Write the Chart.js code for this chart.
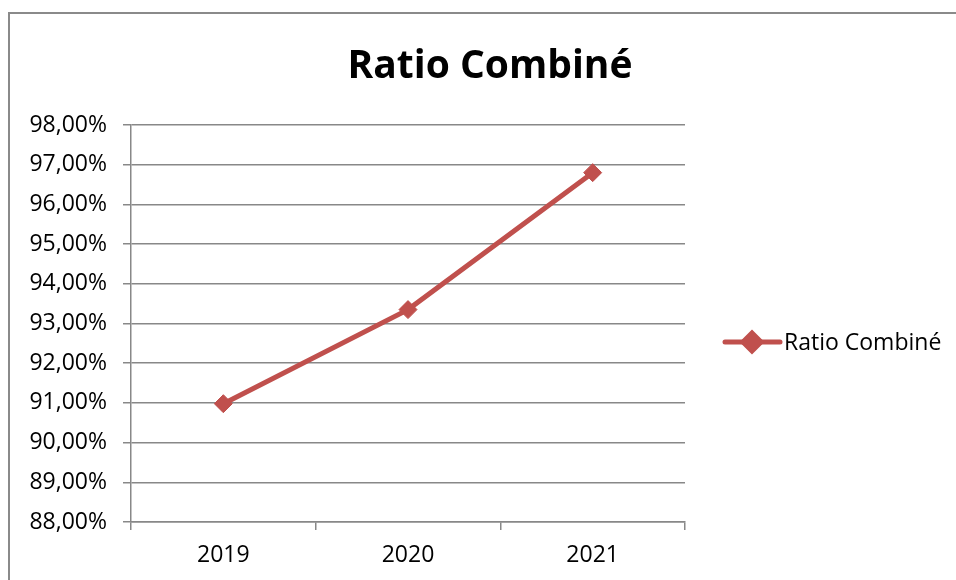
<!DOCTYPE html>
<html>
<head>
<meta charset="utf-8">
<script src="https://cdn.jsdelivr.net/npm/chart.js@4.4.1/dist/chart.umd.min.js"></script>
<style>
  html, body { margin: 0; padding: 0; background: #fff; }
  #wrap { position: relative; width: 956px; height: 580px; overflow: hidden; }
  #frame { position: absolute; left: 8px; top: 12px; width: 1000px; height: 1000px;
           border-left: 2px solid #8a8a8a; border-top: 2px solid #8a8a8a; }
  canvas { position: absolute; left: 0; top: 0; }
</style>
</head>
<body>
<div id="wrap">
  <div id="frame"></div>
  <canvas id="ratioChart" width="956" height="580"></canvas>
</div>
<script>
const years = ["2019", "2020", "2021"];
const ratioCombine = [90.98, 93.35, 96.80];
const yMin = 88;
const yMax = 98;
const chartTitle = "Ratio Combiné";

const RED = "#C0504D";
const GRID = "#888888";
const FONT = "'Open Sans', sans-serif";

function fmtPct(v) {
  return v.toFixed(2).replace(".", ",") + "%";
}

// title centred on the whole frame, not just the plot
const frameTitle = {
  id: "frameTitle",
  afterDraw(chart) {
    const ctx = chart.ctx;
    ctx.save();
    ctx.fillStyle = "#000";
    ctx.font = "bold 39px " + FONT;
    ctx.textAlign = "center";
    ctx.textBaseline = "alphabetic";
    ctx.fillText(chartTitle, 490, 78);
    ctx.restore();
  }
};

// line + diamond legend on the right, like the spreadsheet one
const sideLegend = {
  id: "sideLegend",
  afterDraw(chart) {
    const ctx = chart.ctx;
    const area = chart.chartArea;
    const ds = chart.data.datasets[0];
    const x0 = area.right + 40;
    const y = 342;
    ctx.save();
    ctx.strokeStyle = ds.borderColor;
    ctx.lineWidth = 5;
    ctx.lineCap = "round";
    ctx.beginPath();
    ctx.moveTo(x0, y);
    ctx.lineTo(x0 + 55, y);
    ctx.stroke();
    Chart.helpers.drawPoint(ctx, { pointStyle: "rectRot", radius: 9, borderWidth: 1 }, x0 + 27, y);
    ctx.fillStyle = ds.pointBackgroundColor;
    ctx.fill();
    ctx.fillStyle = "#000";
    ctx.font = "23px " + FONT;
    ctx.textBaseline = "middle";
    ctx.textAlign = "left";
    ctx.fillText(ds.label, x0 + 59, y + 1);
    ctx.restore();
  }
};

new Chart(document.getElementById("ratioChart"), {
  type: "line",
  data: {
    labels: years,
    datasets: [{
      label: chartTitle,
      data: ratioCombine,
      borderColor: RED,
      backgroundColor: RED,
      borderWidth: 5,
      pointStyle: "rectRot",
      pointRadius: 9,
      pointBorderWidth: 1,
      pointBackgroundColor: RED,
      pointBorderColor: RED,
      tension: 0
    }]
  },
  options: {
    responsive: false,
    animation: false,
    layout: { padding: { top: 125, right: 271, bottom: 10, left: 0 } },
    plugins: {
      legend: { display: false },
      tooltip: { enabled: false },
      title: { display: false }
    },
    scales: {
      x: {
        offset: true,
        afterFit(scale) { scale.height = 48; },
        grid: { offset: true, drawOnChartArea: false, drawTicks: true, tickLength: 8, color: GRID, lineWidth: 1.5 },
        border: { display: true, color: GRID, width: 1.5 },
        ticks: { color: "#000", font: { family: FONT, size: 23 }, padding: 12 }
      },
      y: {
        min: yMin,
        max: yMax,
        afterFit(scale) { scale.width = 131; },
        grid: { color: GRID, lineWidth: 1.5, drawTicks: true, tickLength: 8 },
        border: { display: true, color: GRID, width: 1.5 },
        ticks: { stepSize: 1, color: "#000", font: { family: FONT, size: 23 }, padding: 16, callback: v => fmtPct(v) }
      }
    }
  },
  plugins: [frameTitle, sideLegend]
});
</script>
</body>
</html>
